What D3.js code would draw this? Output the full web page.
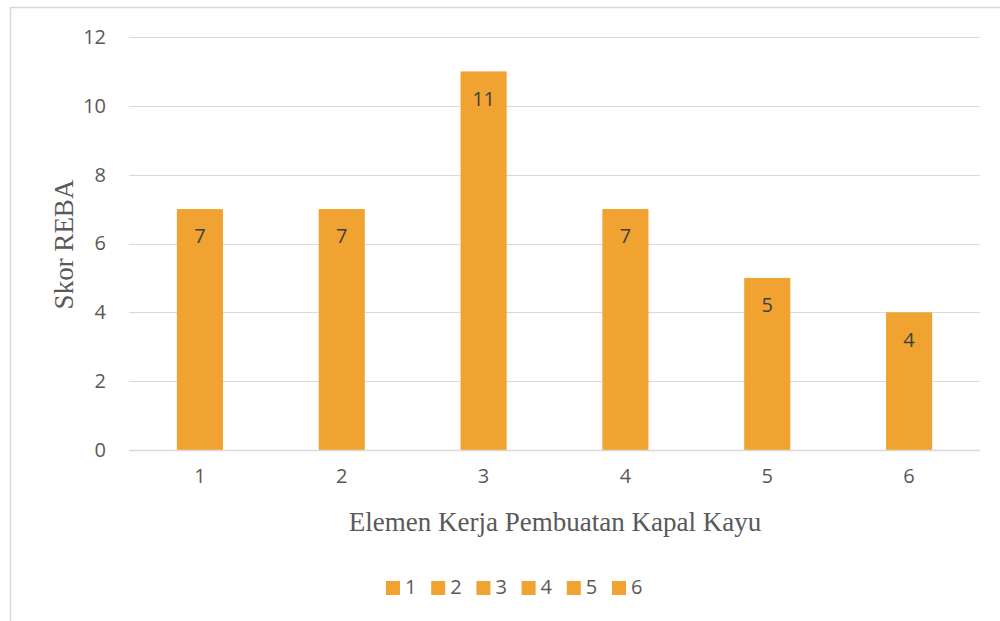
<!DOCTYPE html>
<html>
<head>
<meta charset="utf-8">
<script src="https://cdn.jsdelivr.net/npm/d3@7"></script>
<style>
  html, body { margin: 0; padding: 0; background: #fff; }
  svg { display: block; }
</style>
</head>
<body>
<svg id="chart" width="1000" height="621"></svg>
<script>
// REBA scores per work element
const categories = ["1", "2", "3", "4", "5", "6"];
const scores = [7, 7, 11, 7, 5, 4];
const yTicks = [0, 2, 4, 6, 8, 10, 12];
const legendLabels = ["1", "2", "3", "4", "5", "6"];

const barColor = "#F0A330";
const gridColor = "#D9D9D9";
const textColor = "#595959";
const sansFont = "'Open Sans', 'Liberation Sans', sans-serif";
const serifFont = "'Liberation Serif', 'Times New Roman', serif";

const svg = d3.select("#chart");

// chart frame
svg.append("rect")
  .attr("x", 10.5).attr("y", 7.5)
  .attr("width", 1000).attr("height", 630)
  .attr("fill", "#fff")
  .attr("stroke", "#D9D9D9")
  .attr("stroke-width", 1.5);

const plot = { left: 129, right: 980, top: 37, bottom: 450 };

const x = d3.scaleBand()
  .domain(categories)
  .range([plot.left, plot.right])
  .paddingInner(0.675)
  .paddingOuter(0.3375);

const y = d3.scaleLinear()
  .domain([0, 12])
  .range([plot.bottom, plot.top]);

// horizontal gridlines
svg.append("g")
  .selectAll("line")
  .data(yTicks.filter(d => d > 0))
  .join("line")
  .attr("x1", plot.left).attr("x2", plot.right)
  .attr("y1", d => Math.round(y(d)) + 0.5)
  .attr("y2", d => Math.round(y(d)) + 0.5)
  .attr("stroke", gridColor)
  .attr("stroke-width", 1.2);

// y axis tick labels
const yAxis = d3.axisLeft(y).tickValues(yTicks).tickSize(0).tickPadding(0);
svg.append("g")
  .attr("transform", `translate(${plot.left - 23},0)`)
  .call(yAxis)
  .call(g => g.select(".domain").remove())
  .selectAll("text")
  .attr("font-family", sansFont)
  .attr("font-size", 20)
  .attr("fill", textColor);

// bars
svg.append("g")
  .selectAll("rect")
  .data(scores)
  .join("rect")
  .attr("x", (d, i) => x(categories[i]))
  .attr("y", d => y(d))
  .attr("width", x.bandwidth())
  .attr("height", d => y(0) - y(d))
  .attr("fill", barColor);

// value labels inside bar tops
svg.append("g")
  .selectAll("text")
  .data(scores)
  .join("text")
  .attr("x", (d, i) => x(categories[i]) + x.bandwidth() / 2)
  .attr("y", d => y(d) + 29)
  .attr("text-anchor", "middle")
  .attr("dominant-baseline", "middle")
  .attr("font-family", sansFont)
  .attr("font-size", 20)
  .attr("fill", "#404040")
  .text(d => d);

// baseline
svg.append("line")
  .attr("x1", plot.left).attr("x2", plot.right)
  .attr("y1", plot.bottom + 0.5).attr("y2", plot.bottom + 0.5)
  .attr("stroke", gridColor)
  .attr("stroke-width", 1.5);

// x axis tick labels
const xAxis = d3.axisBottom(x).tickSize(0).tickPadding(0);
svg.append("g")
  .attr("transform", `translate(0,${plot.bottom + 19})`)
  .call(xAxis)
  .call(g => g.select(".domain").remove())
  .selectAll("text")
  .attr("font-family", sansFont)
  .attr("font-size", 20)
  .attr("fill", textColor);

// axis titles
svg.append("text")
  .attr("transform", `translate(73,${(plot.top + plot.bottom) / 2 + 1}) rotate(-90)`)
  .attr("text-anchor", "middle")
  .attr("font-family", serifFont)
  .attr("font-size", 27)
  .attr("fill", textColor)
  .text("Skor REBA");

svg.append("text")
  .attr("x", 555)
  .attr("y", 531)
  .attr("text-anchor", "middle")
  .attr("font-family", serifFont)
  .attr("font-size", 27)
  .attr("fill", textColor)
  .text("Elemen Kerja Pembuatan Kapal Kayu");

// legend
const legendStart = 386, legendStep = 45.2, legendY = 581;
const legend = svg.append("g")
  .selectAll("g")
  .data(legendLabels)
  .join("g")
  .attr("transform", (d, i) => `translate(${legendStart + i * legendStep},${legendY})`);
legend.append("rect")
  .attr("width", 14).attr("height", 14)
  .attr("fill", barColor);
legend.append("text")
  .attr("x", 19).attr("y", 8)
  .attr("dominant-baseline", "middle")
  .attr("font-family", sansFont)
  .attr("font-size", 20)
  .attr("fill", textColor)
  .text(d => d);
</script>
</body>
</html>
